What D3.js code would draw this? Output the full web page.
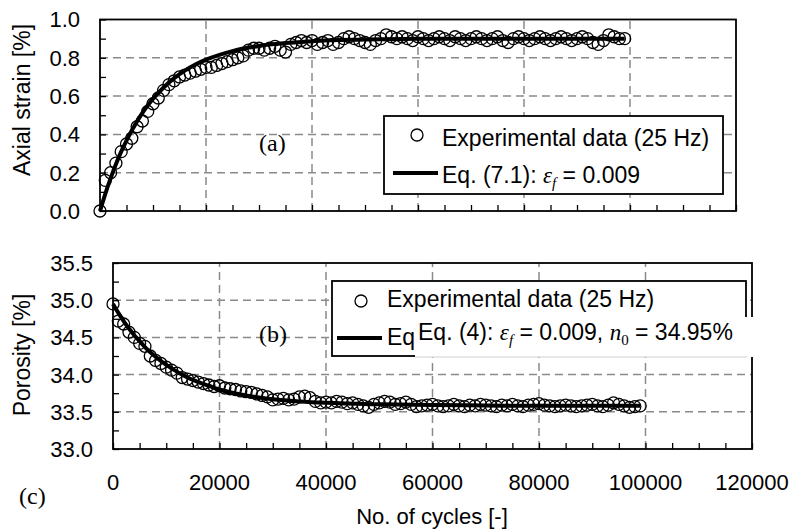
<!DOCTYPE html>
<html>
<head>
<meta charset="utf-8">
<script src="https://cdn.jsdelivr.net/npm/d3@7/dist/d3.min.js"></script>
<style>
  body { margin: 0; background: #fff; }
  text { font-family: "Liberation Sans", Arial, sans-serif; fill: #000; }
  .serif { font-family: "Liberation Serif", "Times New Roman", serif; }
</style>
</head>
<body>
<div id="chart"></div>
<script>
// cycles of the measured points (both panels share them)
var cycles = [0,1000,2000,3000,4000,5000,6000,7000,8000,9000,
  10000,11000,12000,13000,14000,15000,16000,17000,18000,19000,
  20000,21000,22000,23000,24000,25000,26000,27000,28000,29000,
  30000,31000,32000,33000,34000,35000,36000,37000,38000,39000,
  40000,41000,42000,43000,44000,45000,46000,47000,48000,49000,
  50000,51000,52000,53000,54000,55000,56000,57000,58000,59000,
  60000,61000,62000,63000,64000,65000,66000,67000,68000,69000,
  70000,71000,72000,73000,74000,75000,76000,77000,78000,79000,
  80000,81000,82000,83000,84000,85000,86000,87000,88000,89000,
  90000,91000,92000,93000,94000,95000,96000,97000,98000,99000]

// (a) axial strain [%], experimental
var strain = [0.00,0.16,0.20,0.25,0.31,0.35,0.38,0.44,0.47,0.52,
  0.56,0.59,0.63,0.66,0.68,0.70,0.71,0.72,0.73,0.74,
  0.75,0.75,0.76,0.77,0.78,0.79,0.80,0.81,0.84,0.85,
  0.85,0.84,0.85,0.86,0.84,0.83,0.87,0.88,0.89,0.88,
  0.89,0.87,0.88,0.89,0.87,0.88,0.90,0.91,0.90,0.89,
  0.88,0.87,0.89,0.90,0.92,0.91,0.90,0.91,0.90,0.89,
  0.91,0.90,0.89,0.90,0.91,0.90,0.89,0.91,0.90,0.89,
  0.90,0.91,0.90,0.89,0.90,0.91,0.89,0.88,0.90,0.91,
  0.90,0.89,0.90,0.91,0.90,0.89,0.90,0.91,0.90,0.89,
  0.90,0.91,0.90,0.88,0.87,0.89,0.92,0.91,0.90,0.90]

// (b) porosity [%], experimental
var porosity = [34.95,34.72,34.68,34.57,34.50,34.42,34.38,34.25,34.19,34.15,
  34.10,34.06,34.02,33.96,33.94,33.92,33.90,33.88,33.86,33.84,
  33.85,33.82,33.81,33.80,33.78,33.77,33.76,33.74,33.72,33.70,
  33.66,33.67,33.68,33.66,33.67,33.70,33.71,33.69,33.64,33.62,
  33.63,33.62,33.64,33.63,33.61,33.62,33.60,33.58,33.56,33.60,
  33.62,33.64,33.63,33.60,33.61,33.63,33.60,33.57,33.58,33.59,
  33.60,33.58,33.57,33.58,33.60,33.58,33.57,33.59,33.58,33.60,
  33.59,33.58,33.57,33.59,33.58,33.60,33.58,33.57,33.59,33.60,
  33.61,33.59,33.58,33.57,33.58,33.59,33.58,33.57,33.58,33.59,
  33.60,33.58,33.57,33.59,33.62,33.60,33.58,33.56,33.57,33.58]

// fitted curves
var fitCycles = [0,1000,2000,3000,4000,5000,6000,8000,10000,12000,14000,16000,18000,20000,
  25000,30000,35000,40000,50000,60000,70000,80000,90000,99000]
var fitStrain = [0,0.09,0.17,0.244,0.31,0.368,0.42,0.512,0.586,0.645,0.694,0.733,0.765,0.79,
  0.835,0.862,0.877,0.887,0.895,0.899,0.9,0.9,0.9,0.9]
var fitPorosity = [34.95,34.83,34.72,34.62,34.53,34.45,34.37,34.24,34.13,34.04,33.96,33.90,33.85,33.80,
  33.72,33.67,33.64,33.62,33.60,33.59,33.585,33.58,33.58,33.58]

var xTicks = [0,20000,40000,60000,80000,100000,120000]
var strainTicks = [0.0,0.2,0.4,0.6,0.8,1.0]
var porosityTicks = [33.0,33.5,34.0,34.5,35.0,35.5]

var W = 789, H = 531

var svg = d3.select('#chart').append('svg')
    .attr('width', W)
    .attr('height', H)

function panel(opt) {
    var x = d3.scaleLinear().domain([0, 120000]).range(opt.xr)
    var y = d3.scaleLinear().domain(opt.yd).range(opt.yr)
    var g = svg.append('g')
    var x0 = opt.xr[0], x1 = opt.xr[1], yb = opt.yr[0], yt = opt.yr[1]

    // dashed grid
    g.selectAll('.hg').data(opt.yTicks.slice(1, -1)).enter().append('line')
        .attr('x1', x0).attr('x2', x1)
        .attr('y1', function (d) { return y(d) }).attr('y2', function (d) { return y(d) })
        .attr('stroke', '#8a8a8a').attr('stroke-width', 1.5).attr('stroke-dasharray', '8,5')
    g.selectAll('.vg').data(xTicks.slice(1, -1)).enter().append('line')
        .attr('y1', yb).attr('y2', yt)
        .attr('x1', function (d) { return x(d) }).attr('x2', function (d) { return x(d) })
        .attr('stroke', '#8a8a8a').attr('stroke-width', 1.5).attr('stroke-dasharray', '8,5')

    // inner ticks
    var yAxis = d3.axisRight(y).tickValues(d3.range(opt.yd[0], opt.yd[1] + 1e-9, opt.yMinor))
        .tickSize(6).tickFormat('')
    g.append('g').attr('transform', 'translate(' + x0 + ',0)').call(yAxis)
        .call(function (s) { s.select('.domain').remove() })
        .selectAll('line').attr('stroke', '#000').attr('stroke-width', 1.3)
    var xAxis = d3.axisTop(x).tickValues(d3.range(0, 120001, 5000)).tickSize(6).tickFormat('')
    g.append('g').attr('transform', 'translate(0,' + yb + ')').call(xAxis)
        .call(function (s) { s.select('.domain').remove() })
        .selectAll('line').attr('stroke', '#000').attr('stroke-width', 1.3)

    // frame
    g.append('rect').attr('x', x0).attr('y', yt).attr('width', x1 - x0).attr('height', yb - yt)
        .attr('fill', 'none').attr('stroke', '#000').attr('stroke-width', 1.8)

    // y tick labels
    g.selectAll('.yl').data(opt.yTicks).enter().append('text')
        .attr('x', x0 - 20).attr('y', function (d) { return y(d) })
        .attr('dy', '0.36em').attr('text-anchor', 'end')
        .style('font-size', '22px')
        .text(function (d) { return d.toFixed(1) })

    // y title
    g.append('text')
        .attr('transform', 'translate(' + opt.titleX + ',' + opt.titleY + ') rotate(-90)')
        .attr('text-anchor', 'middle').style('font-size', '23px')
        .text(opt.title)

    // fit line
    var line = d3.line()
        .x(function (d, i) { return x(fitCycles[i]) })
        .y(function (d) { return y(d) })
        .curve(d3.curveMonotoneX)
    g.append('path').datum(opt.fit).attr('d', line)
        .attr('fill', 'none').attr('stroke', '#000').attr('stroke-width', 4)

    // measured points
    g.selectAll('.pt').data(opt.data).enter().append('circle')
        .attr('cx', function (d, i) { return x(cycles[i]) })
        .attr('cy', function (d) { return y(d) })
        .attr('r', 6).attr('fill', 'none').attr('stroke', '#000').attr('stroke-width', 1.3)

    return { x: x, y: y, g: g }
}

var top = panel({
    xr: [100, 736], yd: [0, 1], yr: [211, 19.5], yTicks: strainTicks, yMinor: 0.1,
    data: strain, fit: fitStrain, title: 'Axial strain [%]', titleX: 30, titleY: 100
})
var bot = panel({
    xr: [113, 752], yd: [33, 35.5], yr: [449, 263], yTicks: porosityTicks, yMinor: 0.25,
    data: porosity, fit: fitPorosity, title: 'Porosity [%]', titleX: 30, titleY: 355
})

// x tick labels below the lower panel
svg.selectAll('.xl').data(xTicks).enter().append('text')
    .attr('x', function (d) { return bot.x(d) }).attr('y', 490)
    .attr('text-anchor', 'middle').style('font-size', '22px')
    .text(function (d) { return d })

svg.append('text').attr('x', 432).attr('y', 524).attr('text-anchor', 'middle')
    .style('font-size', '22px').text('No. of cycles [-]')

// panel letters
svg.append('text').attr('class', 'serif').attr('x', 259).attr('y', 151).style('font-size', '24px').text('(a)')
svg.append('text').attr('class', 'serif').attr('x', 259).attr('y', 342).style('font-size', '24px').text('(b)')
svg.append('text').attr('class', 'serif').attr('x', 19).attr('y', 504).style('font-size', '24px').text('(c)')

function epsF(t) {
    t.append('tspan').attr('class', 'serif').style('font-style', 'italic').text('\u03b5')
    t.append('tspan').attr('class', 'serif').style('font-style', 'italic').style('font-size', '15px')
        .attr('dy', 5).text('f')
    return t
}

// legend (a)
svg.append('rect').attr('x', 384).attr('y', 116).attr('width', 339).attr('height', 78)
    .attr('fill', '#fff').attr('stroke', '#000').attr('stroke-width', 1.8)
svg.append('circle').attr('cx', 417).attr('cy', 135).attr('r', 6)
    .attr('fill', 'none').attr('stroke', '#000').attr('stroke-width', 1.3)
svg.append('text').attr('x', 442).attr('y', 146).style('font-size', '23px').text('Experimental data (25 Hz)')
svg.append('line').attr('x1', 393).attr('x2', 438).attr('y1', 173).attr('y2', 173)
    .attr('stroke', '#000').attr('stroke-width', 4)
var la = svg.append('text').attr('x', 442).attr('y', 183).style('font-size', '23px')
la.append('tspan').text('Eq. (7.1): ')
epsF(la)
la.append('tspan').attr('dy', -5).text(' = 0.009')

// legend (b)
svg.append('rect').attr('x', 332).attr('y', 281).attr('width', 414).attr('height', 75)
    .attr('fill', '#fff').attr('stroke', '#000').attr('stroke-width', 1.8)
svg.append('circle').attr('cx', 361).attr('cy', 301).attr('r', 6)
    .attr('fill', 'none').attr('stroke', '#000').attr('stroke-width', 1.3)
svg.append('text').attr('x', 387).attr('y', 307).style('font-size', '23px').text('Experimental data (25 Hz)')
svg.append('line').attr('x1', 337).attr('x2', 382).attr('y1', 338).attr('y2', 338)
    .attr('stroke', '#000').attr('stroke-width', 4)
// only the start of the original entry peeks out from under the pasted box
svg.append('text').attr('x', 387).attr('y', 345).style('font-size', '23px').text('Eq')

// pasted-over label box
svg.append('rect').attr('x', 415).attr('y', 317).attr('width', 342).attr('height', 40).attr('fill', '#fff')
svg.append('line').attr('x1', 415).attr('x2', 747).attr('y1', 357).attr('y2', 357)
    .attr('stroke', '#cfcfcf').attr('stroke-width', 1)
var lb = svg.append('text').attr('x', 418).attr('y', 340).style('font-size', '23px')
lb.append('tspan').text('Eq. (4): ')
epsF(lb)
lb.append('tspan').attr('dy', -5).text(' = 0.009, ')
lb.append('tspan').attr('class', 'serif').style('font-style', 'italic').text('n')
lb.append('tspan').attr('class', 'serif').style('font-size', '15px').attr('dy', 5).text('0')
lb.append('tspan').attr('dy', -5).text(' = 34.95%')
</script>
</body>
</html>
